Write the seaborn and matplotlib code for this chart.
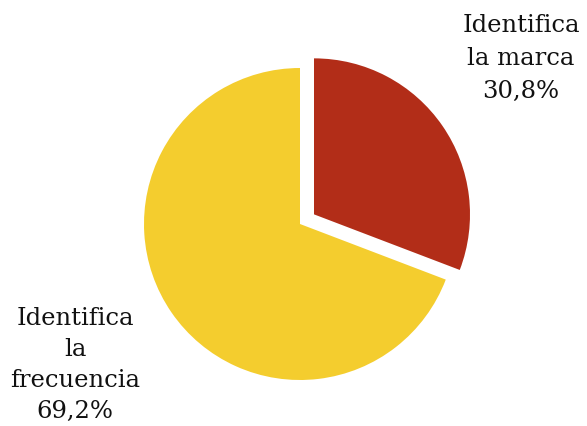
import matplotlib
matplotlib.use("Agg")
import matplotlib.pyplot as plt
import seaborn as sns

labels = ["Identifica\nla marca", "Identifica\nla\nfrecuencia"]
values = [30.8, 69.2]
colors = ["#B22D18", "#F4CD2E"]

sns.set_theme(style="white")
plt.rcParams["font.family"] = ["DejaVu Serif"]

W, H = 587, 427
fig = plt.figure(figsize=(W / 100, H / 100), dpi=100)
ax = fig.add_axes([0, 0, 1, 1])

# explode is in data units here (pixels)
ax.pie(values, colors=colors, startangle=90, counterclock=False,
       explode=[17, 0], center=(300, H - 225), radius=156,
       wedgeprops=dict(linewidth=0))

# pie resets the limits, so set them afterwards
ax.set_xlim(0, W)
ax.set_ylim(0, H)
ax.set_aspect("equal")
ax.axis("off")

fmt = lambda v: f"{v:.1f}".replace(".", ",") + "%"
fig.text(521 / W, 1 - 14 / H, f"{labels[0]}\n{fmt(values[0])}", ha="center", va="top",
         fontsize=17.5, linespacing=1.55, color="#111111")
fig.text(75 / W, 1 - 307 / H, f"{labels[1]}\n{fmt(values[1])}", ha="center", va="top",
         fontsize=17.5, linespacing=1.45, color="#111111")

fig.savefig("out.png", dpi=100)
